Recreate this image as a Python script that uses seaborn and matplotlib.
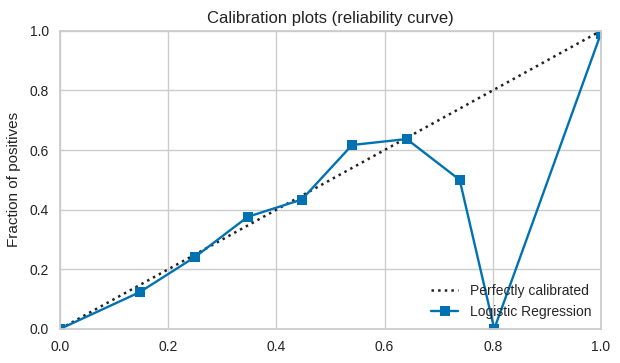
import matplotlib
matplotlib.use("Agg")
import matplotlib.pyplot as plt
import seaborn as sns
import pandas as pd

# mean predicted value per bin vs. fraction of positives
mean_predicted = [0.0, 0.147, 0.25, 0.347, 0.447, 0.54, 0.641, 0.739, 0.803, 1.0]
fraction_positives = [0.0, 0.123, 0.242, 0.376, 0.434, 0.617, 0.637, 0.50, 0.0, 0.99]
perfect_x = [0.0, 1.0]
perfect_y = [0.0, 1.0]

sns.set_theme(style="whitegrid")
plt.rcParams['font.family'] = ['Liberation Sans', 'DejaVu Sans']
plt.rcParams['axes.edgecolor'] = '#cccccc'
plt.rcParams['grid.color'] = '#cccccc'

fig = plt.figure(figsize=(6.2, 3.63), dpi=100)
ax = fig.add_axes([0.097, 0.094, 0.872, 0.821])

df = pd.DataFrame({"x": mean_predicted, "y": fraction_positives})
diag = pd.DataFrame({"x": perfect_x, "y": perfect_y})

sns.lineplot(data=diag, x="x", y="y", ax=ax, color="#222222", linestyle=":",
             linewidth=1.8, label="Perfectly calibrated")
sns.lineplot(data=df, x="x", y="y", ax=ax, color="#0072B2", marker="s",
             markersize=7, markeredgewidth=0, linewidth=1.7, sort=False,
             label="Logistic Regression")

ax.set_xlim(0, 1)
ax.set_ylim(0, 1)
ax.set_title("Calibration plots (reliability curve)", fontsize=12, color="#222222")
ax.set_xlabel("")
ax.set_ylabel("Fraction of positives", fontsize=11, color="#222222", labelpad=6)
ax.tick_params(labelsize=10, colors="#222222", length=0, pad=8)
for s in ax.spines.values():
    s.set_linewidth(1.3)
ax.legend(loc="lower right", frameon=False, fontsize=10, borderaxespad=0.3)

fig.savefig("out.png", dpi=100)
